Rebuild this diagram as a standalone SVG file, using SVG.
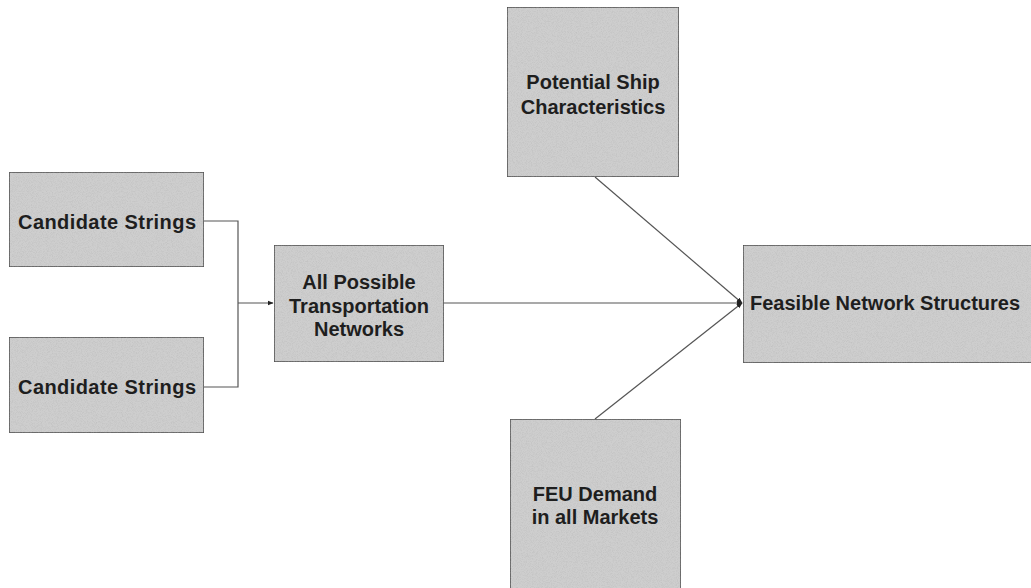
<svg xmlns="http://www.w3.org/2000/svg" width="1031" height="588" viewBox="0 0 1031 588">
  <style>
    .box { fill: #cecece; stroke: #4a4a4a; stroke-width: 1.5; filter: url(#grain); }
    .label { font-family: "Liberation Sans", Arial, sans-serif; font-weight: bold; font-size: 20px; fill: #1e1e1e; text-anchor: middle; }
    .wire { fill: none; stroke: #555; stroke-width: 1.2; }
  </style>
  <defs>
    <!-- fine speckled texture for the box fills -->
    <filter id="grain" x="0" y="0" width="100%" height="100%">
      <feTurbulence type="fractalNoise" baseFrequency="1.2" numOctaves="1" seed="3" result="noise"/>
      <feColorMatrix in="noise" type="matrix" values="0 0 0 0 0.35  0 0 0 0 0.35  0 0 0 0 0.35  0 0 0 -0.7 0.4" result="dots"/>
      <feComposite in="dots" in2="SourceGraphic" operator="in" result="speck"/>
      <feMerge>
        <feMergeNode in="SourceGraphic"/>
        <feMergeNode in="speck"/>
      </feMerge>
    </filter>
    <marker id="arrow" viewBox="0 0 10 10" refX="9" refY="5" markerWidth="6" markerHeight="6" orient="auto" markerUnits="userSpaceOnUse">
      <path d="M0,1 L10,5 L0,9 Z" fill="#222"/>
    </marker>
  </defs>

  <g id="connectors">
    <!-- two candidate string sets merge into one feed -->
    <path class="wire" d="M204,221 H238 V387 H204"/>
    <path class="wire" d="M238,303 H273" marker-end="url(#arrow)"/>
    <!-- three inputs converge on the feasible structures box -->
    <path class="wire" d="M444,303 H742" marker-end="url(#arrow)"/>
    <path class="wire" d="M595,177 L742,303" marker-end="url(#arrow)"/>
    <path class="wire" d="M595,419 L742,303" marker-end="url(#arrow)"/>
  </g>

  <g id="candidate-strings-1">
    <rect class="box" x="9" y="172" width="195" height="95"/>
    <text class="label" x="107" y="229" textLength="178" lengthAdjust="spacing">Candidate Strings</text>
  </g>

  <g id="candidate-strings-2">
    <rect class="box" x="9" y="337" width="195" height="96"/>
    <text class="label" x="107" y="394" textLength="178" lengthAdjust="spacing">Candidate Strings</text>
  </g>

  <g id="all-possible-networks">
    <rect class="box" x="274" y="245" width="170" height="117"/>
    <text class="label" x="359" y="289">All Possible</text>
    <text class="label" x="359" y="313">Transportation</text>
    <text class="label" x="359" y="336">Networks</text>
  </g>

  <g id="ship-characteristics">
    <rect class="box" x="507" y="7" width="172" height="170"/>
    <text class="label" x="593" y="89">Potential Ship</text>
    <text class="label" x="593" y="114">Characteristics</text>
  </g>

  <g id="feu-demand">
    <rect class="box" x="510" y="419" width="171" height="175"/>
    <text class="label" x="595" y="501">FEU Demand</text>
    <text class="label" x="595" y="524">in all Markets</text>
  </g>

  <g id="feasible-structures">
    <rect class="box" x="743" y="245" width="295" height="118"/>
    <text class="label" x="750" y="310" style="text-anchor: start">Feasible Network Structures</text>
  </g>
</svg>
